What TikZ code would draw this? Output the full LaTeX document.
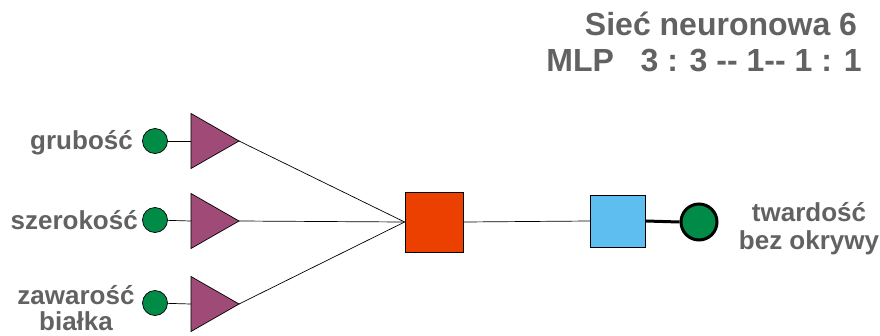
\documentclass[tikz,border=0pt]{standalone}
\usepackage{fontspec}
\setmainfont{Liberation Sans}
\usetikzlibrary{shapes.geometric}
\definecolor{txtgray}{RGB}{98,98,98}
\definecolor{ingreen}{RGB}{0,140,70}
\definecolor{trimauve}{RGB}{160,74,120}
\definecolor{hidred}{RGB}{236,64,0}
\definecolor{outblue}{RGB}{95,190,240}
\tikzset{
  lbl/.style={font=\fontsize{26}{28}\selectfont\bfseries, text=txtgray, inner sep=0pt, align=center},
  ttl/.style={font=\fontsize{32}{36}\selectfont\bfseries, text=txtgray, inner sep=0pt},
  incirc/.style={circle, draw=black, line width=0.7pt, fill=ingreen, minimum size=25pt, inner sep=0pt},
  tri/.style={isosceles triangle, isosceles triangle stretches, draw=black, line width=0.7pt, fill=trimauve,
    minimum width=55pt, minimum height=48pt, inner sep=0pt, outer sep=0pt, shape border rotate=0},
  hidbox/.style={draw=black, line width=0.8pt, fill=hidred, minimum width=58pt, minimum height=60pt, inner sep=0pt},
  outbox/.style={draw=black, line width=0.8pt, fill=outblue, minimum width=55pt, minimum height=52pt, inner sep=0pt},
  outcirc/.style={circle, draw=black, line width=3pt, fill=ingreen, minimum size=36pt, inner sep=0pt},
  wire/.style={draw=black, line width=0.7pt},
  thickwire/.style={draw=black, line width=3pt}
}
\begin{document}
\begin{tikzpicture}[x=1pt,y=-1pt]
\useasboundingbox (0,0) rectangle (880,335);
% title
\node[ttl] (t1) at (721,24) {Sieć neuronowa 6};
\node[ttl] (t2) at (704,61) {MLP\ \ \ 3 : 3 -{}- 1-{}- 1 : 1};
% inputs
\node[incirc] (c1) at (155,141) {};
\node[incirc] (c2) at (155,220) {};
\node[incirc] (c3) at (155,303) {};
\node[lbl, anchor=east] (l1) at (133,143) {grubość};
\node[lbl, anchor=east] (l2) at (138,220) {szerokość};
\node[lbl, font=\fontsize{26}{26}\selectfont\bfseries] (l3) at (76,308) {zawarość\\białka};
% triangles
\node[tri, anchor=apex] (tr1) at (239,141) {};
\node[tri, anchor=apex] (tr2) at (239,221) {};
\node[tri, anchor=apex] (tr3) at (239,304) {};
% hidden
\node[hidbox] (h) at (434,222) {};
\node[outbox] (o) at (618,221) {};
\node[outcirc] (oc) at (699,222) {};
\node[lbl] (ol) at (809,229) {twardość\\bez okrywy};
% wires
\draw[wire] (c1) -- (tr1.lower side);
\draw[wire] (c2) -- (tr2.lower side);
\draw[wire] (c3) -- (tr3.lower side);
\draw[wire] (tr1.apex) -- (h.west);
\draw[wire] (tr2.apex) -- (h.west);
\draw[wire] (tr3.apex) -- (h.west);
\draw[wire] (h.east) -- (o.west);
\draw[thickwire] (o.east) -- (oc.west);
\end{tikzpicture}
\end{document}
